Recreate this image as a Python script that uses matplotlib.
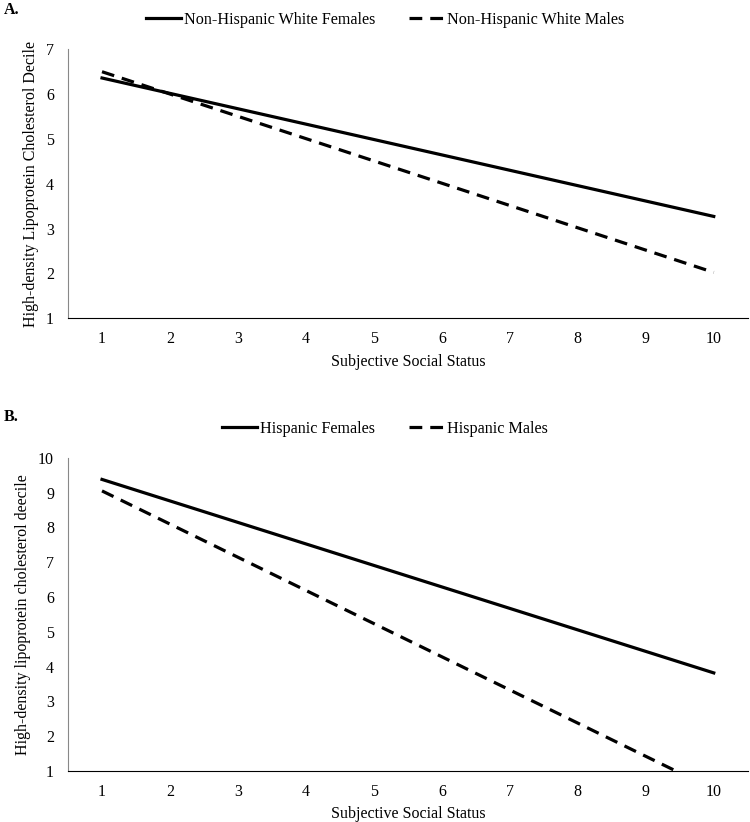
import matplotlib
matplotlib.use("Agg")
import matplotlib.pyplot as plt

plt.rcParams['font.family'] = ['Liberation Serif', 'DejaVu Serif']

sss = [1, 10]

# panel A: non-hispanic white
nhw_female = [6.36, 3.27]
nhw_male = [6.50, 2.02]

# panel B: hispanic
hisp_female = [9.38, 3.82]
hisp_male = [9.05, 0.47]

fig = plt.figure(figsize=(7.5, 8.22), dpi=100)
axA = fig.add_axes([0.0907, 0.613, 0.9063, 0.327])
axB = fig.add_axes([0.0907, 0.062, 0.9063, 0.381])


def style(ax, ylim, ylabel):
    ax.set_xlim(0.5, 10.5)
    ax.set_ylim(*ylim)
    ax.set_xticks(range(1, 11))
    ax.set_yticks(range(ylim[0], ylim[1] + 1))
    ax.tick_params(length=0, labelsize=11.5)
    ax.tick_params(axis='x', pad=9)
    ax.tick_params(axis='y', pad=10)
    ax.spines['top'].set_visible(False)
    ax.spines['right'].set_visible(False)
    ax.spines['left'].set_color('#888888')
    ax.spines['bottom'].set_color('black')
    ax.set_xlabel('Subjective Social Status', fontsize=11.5, labelpad=5)
    ax.set_ylabel(ylabel, fontsize=11.5, labelpad=5)


leg_kw = dict(loc='center', ncol=2, frameon=False, fontsize=11.6, handlelength=2.2,
              columnspacing=2.1, handletextpad=0.15, bbox_transform=fig.transFigure)

axA.plot(sss, nhw_female, color='black', lw=2.3, label='Non-Hispanic White Females')
axA.plot(sss, nhw_male, color='black', lw=2.3, ls=(0, (4, 2.5)), label='Non-Hispanic White Males')
style(axA, (1, 7), 'High-density Lipoprotein Cholesterol Decile')
axA.legend(bbox_to_anchor=(0.513, 1 - 20 / 822), **leg_kw)

axB.plot(sss, hisp_female, color='black', lw=2.3, label='Hispanic Females')
axB.plot(sss, hisp_male, color='black', lw=2.3, ls=(0, (4, 2.5)), label='Hispanic Males')
style(axB, (1, 10), 'High-density lipoprotein cholesterol deecile')
axB.legend(bbox_to_anchor=(0.513, 1 - 429 / 822), **leg_kw)

fig.text(0.005, 0.997, 'A.', fontsize=11.5, fontweight='bold', va='top')
fig.text(0.005, 0.503, 'B.', fontsize=11.5, fontweight='bold', va='top')

fig.savefig('out.png', dpi=100)
plt.close(fig)
